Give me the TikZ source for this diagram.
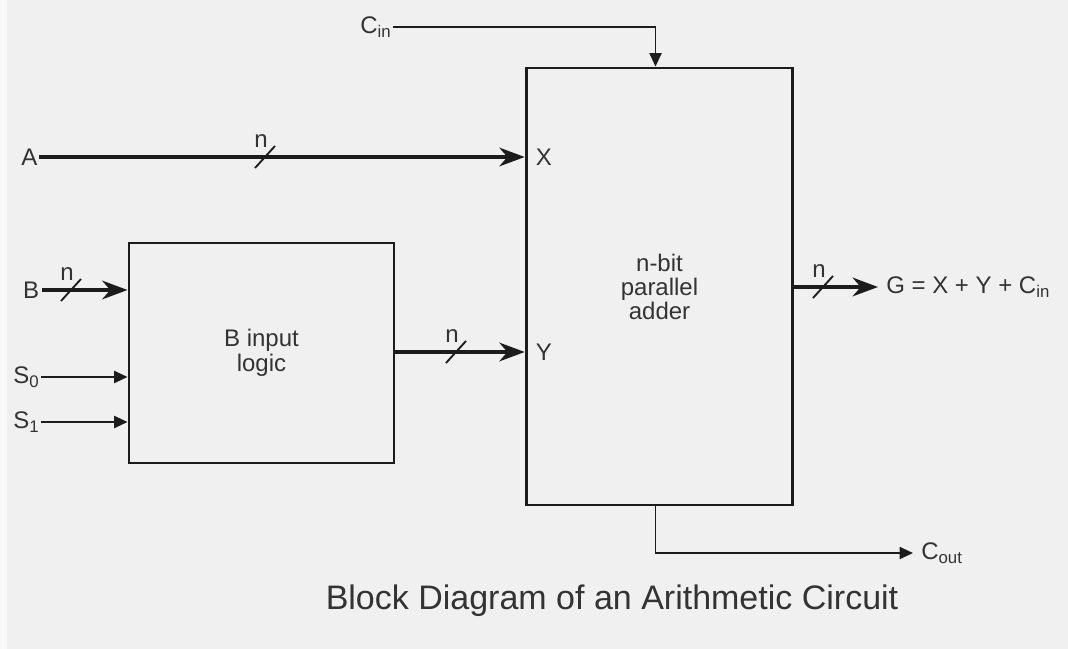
\documentclass[tikz,border=0pt]{standalone}
\usepackage{fontspec}
\setmainfont{Liberation Sans}
\usetikzlibrary{arrows.meta, calc, positioning}

\definecolor{bggray}{HTML}{F0F0F0}
\definecolor{linegray}{HTML}{1C1C1C}
\definecolor{txtgray}{HTML}{333333}
\newcommand{\lblfont}{\fontsize{18}{19}\selectfont}
\newcommand{\capfont}{\fontsize{25.5}{28}\selectfont}

\begin{document}
\begin{tikzpicture}[
    x=0.75pt, y=-0.75pt,
    every node/.style={inner sep=2pt, text=txtgray, font=\lblfont},
    block/.style={draw=linegray, line width=2.2pt, rectangle, align=center},
    bus/.style={draw=linegray, line width=2.4pt, -{Stealth[length=19pt, width=14pt, inset=6pt]}},
    ctl/.style={draw=linegray, line width=1.4pt, -{Triangle[length=10pt, width=9pt]}},
    slash/.style={draw=linegray, line width=1.4pt}
]

% background
\fill[bggray] (0,0) rectangle (1068,649);
\fill[white!60!bggray] (0,0) rectangle (7,649);
\useasboundingbox (0,0) rectangle (1068,649);

% blocks
\node[block, minimum width=200pt, minimum height=327.75pt,
      font=\fontsize{18}{18}\selectfont] (adder) at (659.5,286.5) {n-bit\\parallel\\adder};
\node[block, minimum width=198.75pt, minimum height=165pt] (blogic) at (261.5,353) {B input\\logic};

% labels
\node[anchor=east, inner xsep=1pt] (A) at (39,157) {A};
\node[anchor=east] (B) at (42,290) {B};
\node[anchor=east, inner xsep=1pt] (S0) at (41,377) {S\textsubscript{0}};
\node[anchor=east, inner xsep=1pt] (S1) at (41,422) {S\textsubscript{1}};
\node[anchor=east, inner xsep=1pt] (Cin) at (393,27) {C\textsubscript{in}};
\node[anchor=west] (X) at (533,157) {X};
\node[anchor=west] (Y) at (533,352) {Y};
\node[anchor=west, inner xsep=6pt] (G) at (878,287) {G = X + Y + C\textsubscript{in}};
\node[anchor=west, inner xsep=6pt] (Cout) at (913,553) {C\textsubscript{out}};
\node[font=\capfont] (caption) at (612,601) {Block Diagram of an Arithmetic Circuit};

% connectors
\draw[bus] (A.east) -- (A.east -| adder.west);
\draw[bus] (B.east) -- (B.east -| blogic.west);
\draw[ctl] (S0.east) -- (S0.east -| blogic.west);
\draw[ctl] (S1.east) -- (S1.east -| blogic.west);
\draw[bus] (blogic.east |- Y.west) -- (adder.west |- Y.west);
\draw[bus] (adder.east |- G.west) -- (G.west);
\draw[ctl] (Cin.east) -| ([xshift=-3pt]adder.north);
\draw[ctl] ([xshift=-3pt]adder.south) |- (Cout.west);

% bus width marks
\foreach \sx/\sy/\nm in {265/157/A, 71/290/B, 456/352/Y, 823/287/G} {
    \coordinate (s\nm) at (\sx,\sy);
    \draw[slash] ([shift={(-10,11)}]s\nm) -- ([shift={(10,-11)}]s\nm);
    \node (n\nm) at ([shift={(-4,-16)}]s\nm) {n};
}

\end{tikzpicture}
\end{document}
